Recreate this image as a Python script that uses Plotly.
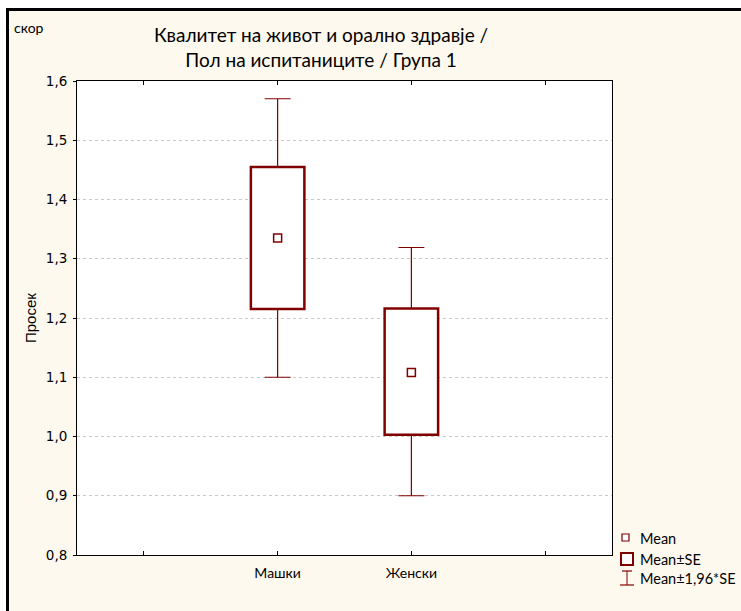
import plotly.graph_objects as go

# ---- data ----
categories = ["Машки", "Женски"]
cat_pos = [2, 3]
means = [1.335, 1.108]
se_low = [1.215, 1.003]
se_high = [1.455, 1.216]
ci_low = [1.100, 0.900]
ci_high = [1.570, 1.319]

tick_pos = [1, 2, 3, 4]
tick_text = ["", "Машки", "Женски", ""]
y_ticks = [0.8, 0.9, 1.0, 1.1, 1.2, 1.3, 1.4, 1.5, 1.6]

RED = "#800000"
CREAM = "#FEF9EE"

fig = go.Figure()

# box (Mean ± SE)
fig.add_trace(go.Bar(
    x=cat_pos, base=se_low, y=[h - l for h, l in zip(se_high, se_low)],
    width=0.4, marker=dict(color="white", line=dict(color=RED, width=2.5)),
    showlegend=False, hoverinfo="skip"))

# upper whiskers (to Mean + 1.96*SE)
fig.add_trace(go.Scatter(
    x=cat_pos, y=se_high, mode="markers", marker=dict(size=0.1, color=RED),
    error_y=dict(type="data", symmetric=False,
                 array=[c - h for c, h in zip(ci_high, se_high)],
                 arrayminus=[0, 0], color=RED, thickness=1.2, width=13),
    showlegend=False, hoverinfo="skip"))
# lower whiskers
fig.add_trace(go.Scatter(
    x=cat_pos, y=se_low, mode="markers", marker=dict(size=0.1, color=RED),
    error_y=dict(type="data", symmetric=False, array=[0, 0],
                 arrayminus=[l - c for l, c in zip(se_low, ci_low)],
                 color=RED, thickness=1.2, width=13),
    showlegend=False, hoverinfo="skip"))

# mean markers
fig.add_trace(go.Scatter(
    x=cat_pos, y=means, mode="markers",
    marker=dict(symbol="square-open", size=8, color=RED, line=dict(width=1.5, color=RED)),
    showlegend=False))

# plot area: x 77..612 px, y 81..555 px
def px(x):
    return (x - 77) / 535.0

def py(y):
    return (555 - y) / 474.0

shapes = []
# white outer strips + black border (top & left)
shapes.append(dict(type="rect", xref="paper", yref="paper", x0=px(-5), x1=px(6), y0=py(620), y1=py(-5),
                   fillcolor="white", line=dict(width=0), layer="above"))
shapes.append(dict(type="rect", xref="paper", yref="paper", x0=px(-5), x1=px(750), y0=py(8), y1=py(-5),
                   fillcolor="white", line=dict(width=0), layer="above"))
shapes.append(dict(type="rect", xref="paper", yref="paper", x0=px(6), x1=px(9), y0=py(620), y1=py(8),
                   fillcolor="black", line=dict(width=0), layer="above"))
shapes.append(dict(type="rect", xref="paper", yref="paper", x0=px(6), x1=px(750), y0=py(11), y1=py(8),
                   fillcolor="black", line=dict(width=0), layer="above"))

# legend symbols
shapes.append(dict(type="rect", xref="paper", yref="paper", x0=px(622), x1=px(629), y0=py(541), y1=py(534),
                   line=dict(color=RED, width=1.2), fillcolor="white"))
shapes.append(dict(type="rect", xref="paper", yref="paper", x0=px(621), x1=px(633), y0=py(565), y1=py(553),
                   line=dict(color=RED, width=2), fillcolor="white"))
shapes.append(dict(type="line", xref="paper", yref="paper", x0=px(627), x1=px(627), y0=py(585), y1=py(571),
                   line=dict(color=RED, width=1)))
shapes.append(dict(type="line", xref="paper", yref="paper", x0=px(622), x1=px(632), y0=py(571), y1=py(571),
                   line=dict(color=RED, width=1.2)))
shapes.append(dict(type="line", xref="paper", yref="paper", x0=px(620), x1=px(634), y0=py(585), y1=py(585),
                   line=dict(color=RED, width=1.2)))

annotations = [
    dict(text="Квалитет на живот и орално здравје /<br>Пол на испитаниците / Група 1",
         xref="paper", yref="paper", x=px(321), y=py(47.5), xanchor="center", yanchor="middle",
         showarrow=False, font=dict(family="Lato", size=19, color="black")),
    dict(text="скор", xref="paper", yref="paper", x=px(12), y=py(27), xanchor="left", yanchor="middle",
         showarrow=False, font=dict(family="Lato", size=14, color="black")),
    dict(text="Просек", xref="paper", yref="paper", x=px(30), y=py(318), xanchor="center", yanchor="middle",
         textangle=-90, showarrow=False, font=dict(family="Liberation Sans", size=15, color="black")),
    dict(text="Mean", xref="paper", yref="paper", x=px(638), y=py(538), xanchor="left", yanchor="middle",
         showarrow=False, font=dict(family="Lato", size=14.5, color="black")),
    dict(text="Mean±SE", xref="paper", yref="paper", x=px(638), y=py(559), xanchor="left", yanchor="middle",
         showarrow=False, font=dict(family="Lato", size=14.5, color="black")),
    dict(text="Mean±1,96*SE", xref="paper", yref="paper", x=px(638), y=py(578), xanchor="left", yanchor="middle",
         showarrow=False, font=dict(family="Lato", size=14.5, color="black")),
]

fig.update_layout(
    width=741, height=611,
    margin=dict(l=77, r=129, t=81, b=56),
    paper_bgcolor=CREAM, plot_bgcolor="white",
    separators=",.",
    showlegend=False,
    shapes=shapes, annotations=annotations,
    xaxis=dict(range=[0.5, 4.5], tickmode="array", tickvals=tick_pos, ticktext=tick_text,
               ticks="inside", ticklen=4, tickcolor="black", showgrid=False, zeroline=False,
               showline=True, linecolor="black", linewidth=1, mirror="ticks",
               ticklabelstandoff=5,
               tickfont=dict(family="Lato", size=14, color="black")),
    yaxis=dict(range=[0.8, 1.6], tickmode="array", tickvals=y_ticks, tickformat=".1f",
               ticks="outside", ticklen=3, tickcolor="black",
               ticklabelstandoff=3,
               showgrid=True, gridcolor="#c8c8c8", griddash="dot", gridwidth=1, zeroline=False,
               showline=True, linecolor="black", linewidth=1, mirror=True,
               tickfont=dict(family="DejaVu Sans", size=13.5, color="black")),
)

fig.write_html("out.html", config={"displayModeBar": False},
               post_script="document.body.style.margin='0';document.body.style.overflow='hidden';")
